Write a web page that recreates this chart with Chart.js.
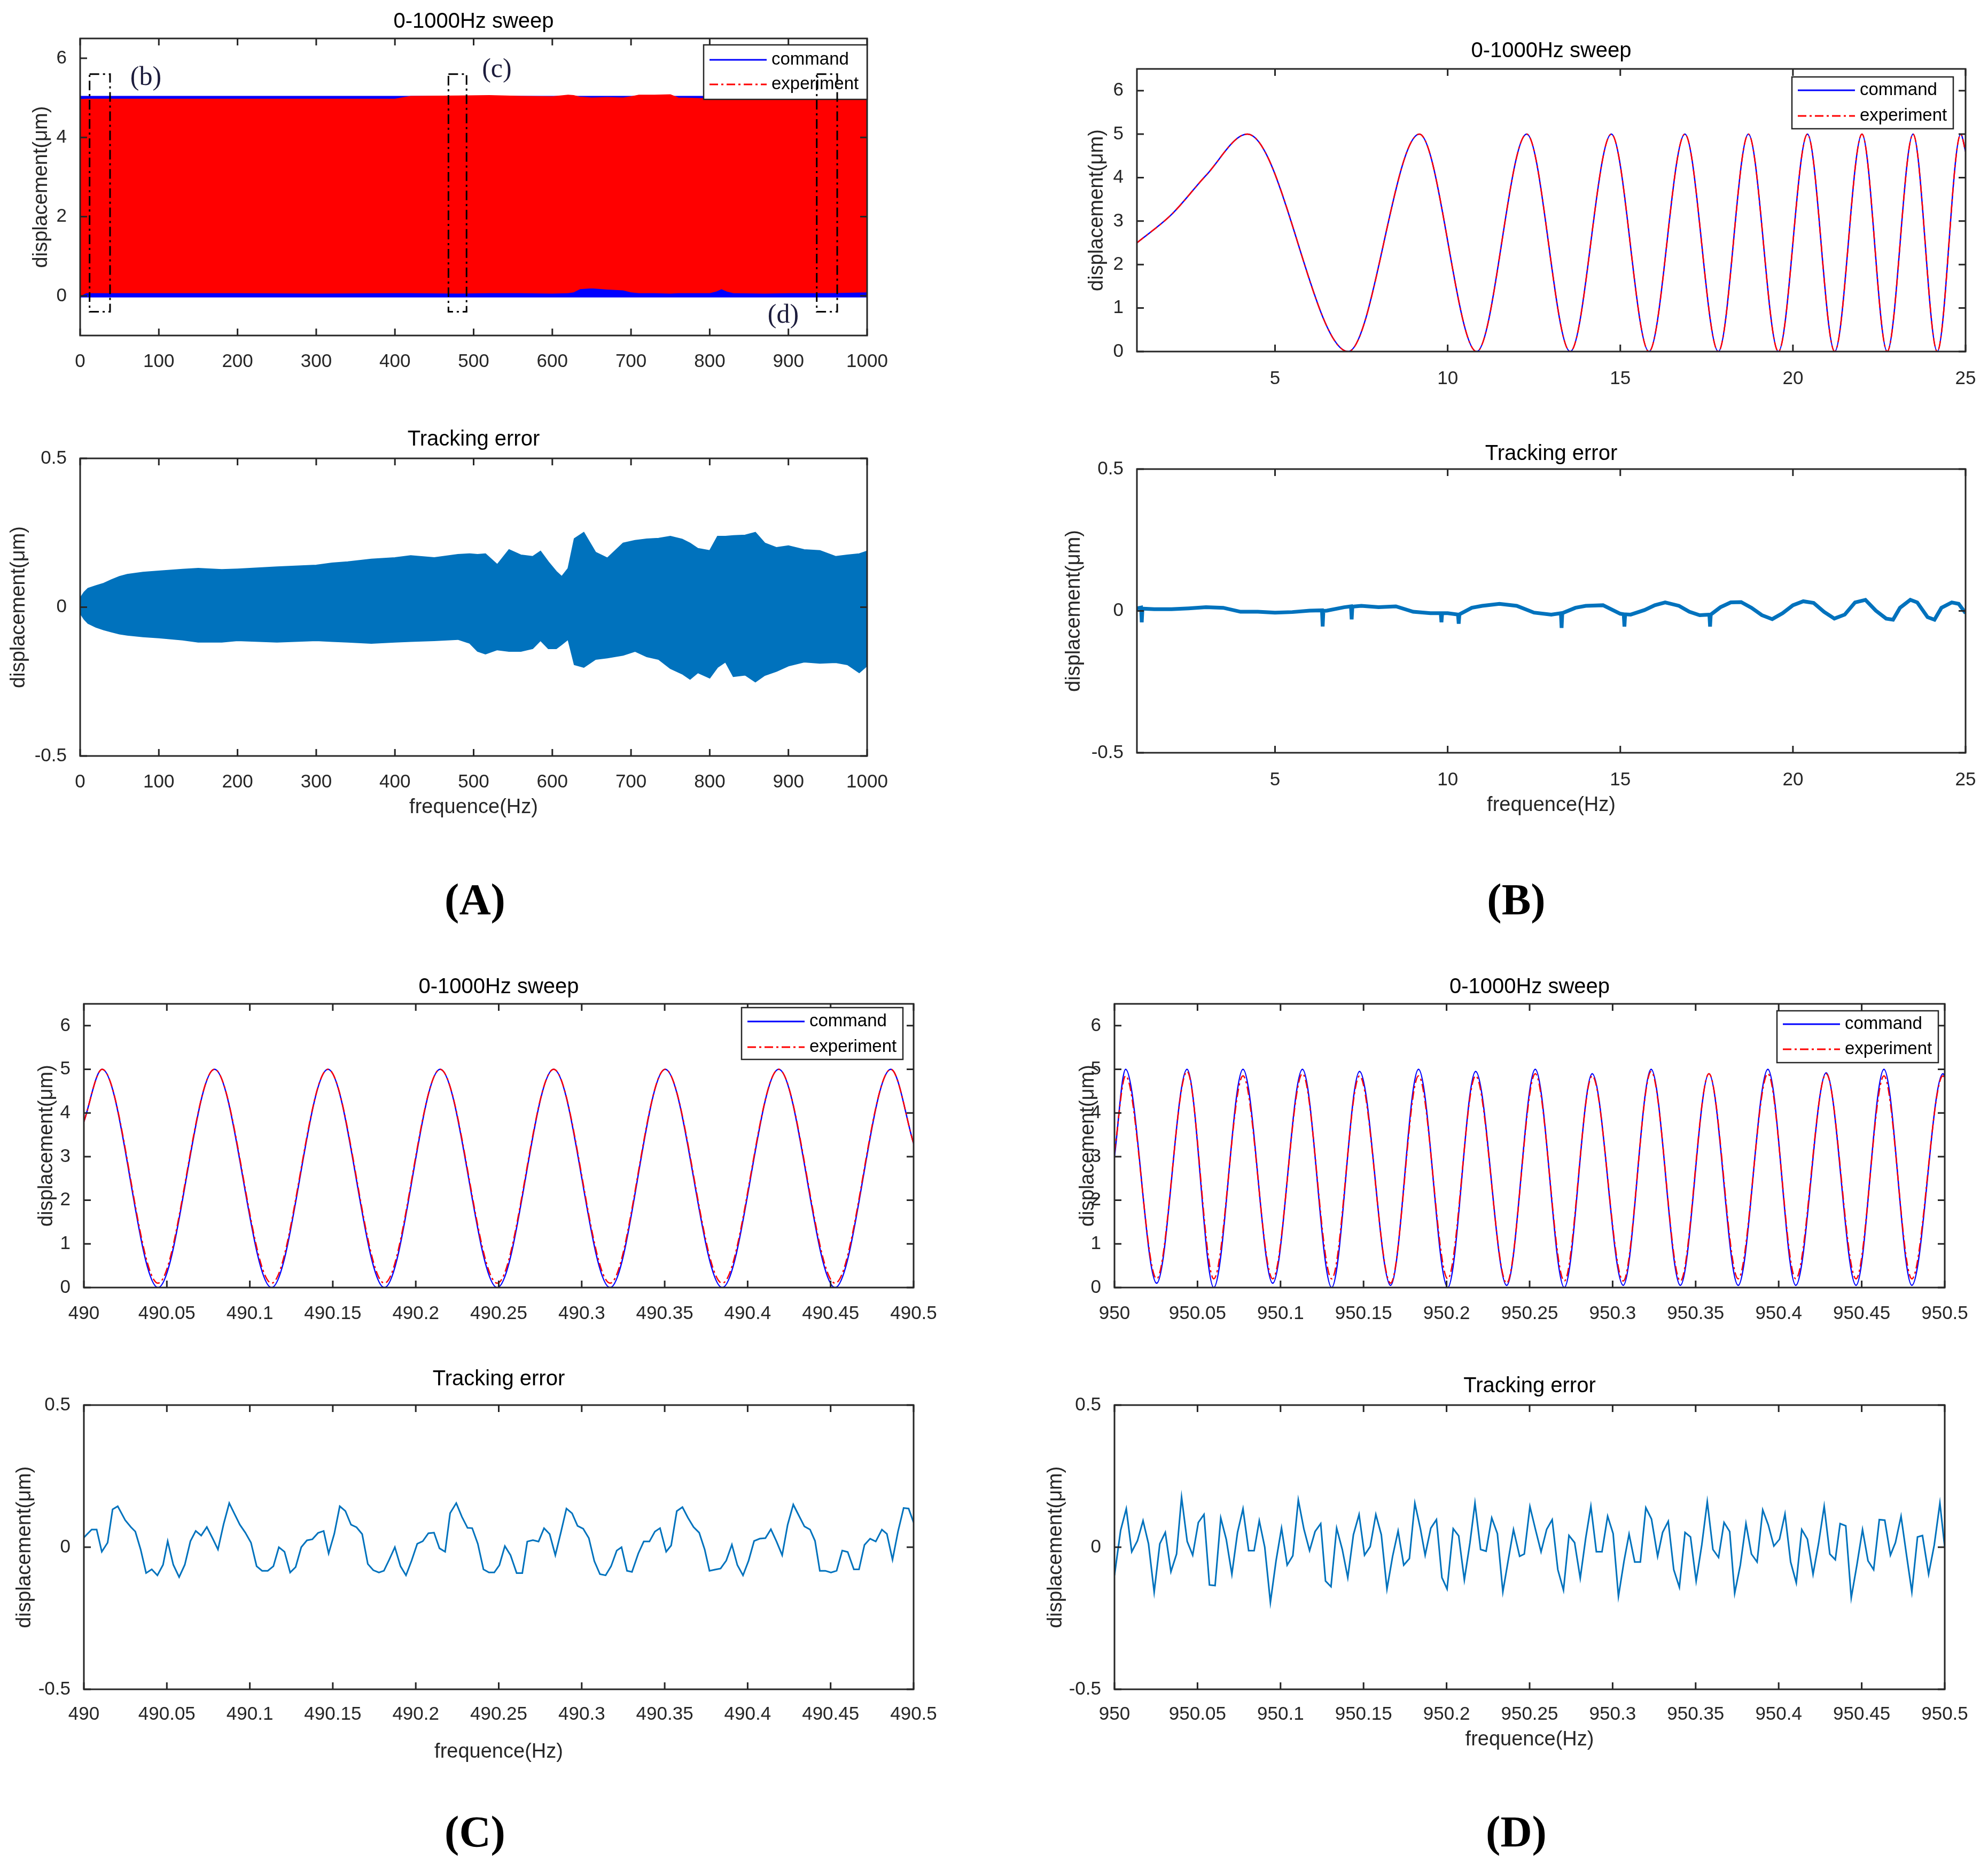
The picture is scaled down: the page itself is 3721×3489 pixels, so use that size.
<!DOCTYPE html>
<html>
<head>
<meta charset="utf-8">
<script src="https://cdn.jsdelivr.net/npm/chart.js@4.4.1/dist/chart.umd.min.js"></script>
<style>
  html, body { margin: 0; padding: 0; background: #fff; }
  body { width: 3721px; height: 3489px; position: relative; overflow: hidden; }
  canvas { position: absolute; }
  .panel-tag { position: absolute; font: bold 82px 'Liberation Serif', 'Times New Roman', serif; color: #000; transform: translate(-50%, -50%); white-space: nowrap; }
</style>
</head>
<body>
<div class="panel-tag" style="left:889px;top:1684px">(A)</div>
<div class="panel-tag" style="left:2838px;top:1684px">(B)</div>
<div class="panel-tag" style="left:889px;top:3429px">(C)</div>
<div class="panel-tag" style="left:2838px;top:3429px">(D)</div>
<script>
// ---- text ----
const seriesNames = ['command', 'experiment'];
const sweepTitle = '0-1000Hz sweep';
const errorTitle = 'Tracking error';
const yAxisTitle = 'displacement(\u03bcm)';
const xAxisTitle = 'frequence(Hz)';

// ---- tick values ----
const ticksAX = [0, 100, 200, 300, 400, 500, 600, 700, 800, 900, 1000];
const ticksBX = [5, 10, 15, 20, 25];
const ticksCX = [490, 490.05, 490.1, 490.15, 490.2, 490.25, 490.3, 490.35, 490.4, 490.45, 490.5];
const ticksDX = [950, 950.05, 950.1, 950.15, 950.2, 950.25, 950.3, 950.35, 950.4, 950.45, 950.5];
const ticksSweepAY = [0, 2, 4, 6];
const ticksSweepY = [0, 1, 2, 3, 4, 5, 6];
const ticksErrorY = [-0.5, 0, 0.5];

// ---- (A) 0-1000 Hz sweep: envelopes of the dense signals ----
const sweepAFreq = [0, 8, 100, 200, 300, 400, 420, 480, 520, 560, 600, 620, 627, 635, 650, 670, 690, 700, 710, 730, 750, 760, 800, 808, 815, 822, 830, 870, 900, 950, 1000];
const commandAUpper = [5.04, 5.04, 5.04, 5.04, 5.04, 5.04, 5.04, 5.04, 5.04, 5.04, 5.04, 5.04, 5.04, 5.04, 5.04, 5.04, 5.04, 5.04, 5.04, 5.04, 5.04, 5.04, 5.04, 5.04, 5.04, 5.04, 5.04, 5.04, 5.04, 5.04, 5.04];
const commandALower = [-0.03, -0.03, -0.03, -0.03, -0.03, -0.03, -0.03, -0.03, -0.03, -0.03, -0.03, -0.03, -0.03, -0.03, -0.03, -0.03, -0.03, -0.03, -0.03, -0.03, -0.03, -0.03, -0.03, -0.03, -0.03, -0.03, -0.03, -0.03, -0.03, -0.03, -0.03];
const experimentAUpper = [4.96, 4.97, 4.97, 4.97, 4.97, 4.97, 5.04, 5.05, 5.06, 5.04, 5.03, 5.07, 5.06, 5.02, 5.0, 5.01, 5.0, 5.03, 5.07, 5.07, 5.08, 5.0, 4.98, 4.97, 4.97, 4.97, 4.97, 4.97, 4.97, 4.97, 4.97];
const experimentALower = [0.0, 0.08, 0.08, 0.08, 0.07, 0.08, 0.08, 0.07, 0.08, 0.08, 0.07, 0.08, 0.1, 0.18, 0.2, 0.17, 0.15, 0.1, 0.08, 0.08, 0.07, 0.08, 0.08, 0.12, 0.18, 0.12, 0.08, 0.07, 0.08, 0.08, 0.1];

// zoom windows marked on (A)
const zoomBoxStart = [12, 468, 936];
const zoomBoxEnd = [38, 491, 962];
const zoomBoxLow = -0.4;
const zoomBoxHigh = 5.6;
const zoomTags = ['(b)', '(c)', '(d)'];
const zoomTagFreq = [83.5, 529.5, 893.4];
const zoomTagLevel = [5.5, 5.7, -0.5];

// (A) tracking error envelope
const errAFreq = [0, 5, 10, 20, 30, 40, 50, 60, 80, 100, 130, 150, 180, 200, 250, 300, 320, 340, 370, 400, 420, 450, 480, 495, 505, 515, 530, 545, 560, 575, 585, 595, 605, 612, 620, 628, 640, 655, 670, 690, 705, 720, 735, 750, 765, 775, 785, 800, 810, 820, 830, 845, 858, 870, 885, 900, 920, 940, 960, 975, 990, 1000];
const errAUpper = [0.03, 0.05, 0.063, 0.072, 0.08, 0.092, 0.103, 0.11, 0.117, 0.121, 0.127, 0.13, 0.126, 0.128, 0.135, 0.141, 0.148, 0.152, 0.161, 0.166, 0.173, 0.166, 0.177, 0.179, 0.177, 0.179, 0.143, 0.193, 0.175, 0.17, 0.188, 0.152, 0.12, 0.103, 0.13, 0.23, 0.251, 0.184, 0.165, 0.215, 0.224, 0.229, 0.231, 0.238, 0.228, 0.215, 0.197, 0.19, 0.238, 0.238, 0.24, 0.242, 0.251, 0.215, 0.2, 0.206, 0.193, 0.19, 0.17, 0.175, 0.179, 0.188];
const errALower = [-0.02, -0.04, -0.054, -0.067, -0.076, -0.083, -0.09, -0.094, -0.099, -0.103, -0.11, -0.117, -0.117, -0.112, -0.117, -0.112, -0.115, -0.117, -0.121, -0.117, -0.115, -0.112, -0.108, -0.121, -0.148, -0.157, -0.143, -0.148, -0.148, -0.139, -0.112, -0.139, -0.139, -0.125, -0.108, -0.193, -0.202, -0.175, -0.17, -0.161, -0.148, -0.166, -0.175, -0.206, -0.224, -0.242, -0.22, -0.238, -0.202, -0.184, -0.233, -0.228, -0.251, -0.229, -0.215, -0.197, -0.184, -0.188, -0.186, -0.193, -0.22, -0.197];

// ---- (B) 1-25 Hz: turning points of the sweep ----
const sweepBFreq = [1, 2, 3, 4.2, 7.12, 9.18, 10.84, 12.29, 13.55, 14.74, 15.83, 16.87, 17.84, 18.71, 19.58, 20.42, 21.21, 22.0, 22.73, 23.48, 24.18, 24.86, 25];
const commandB = [2.5, 3.15, 4.05, 5, 0, 5, 0, 5, 0, 5, 0, 5, 0, 5, 0, 5, 0, 5, 0, 5, 0, 5, 4.6];
const experimentB = [2.5, 3.15, 4.05, 5, 0, 5, 0, 5, 0, 5, 0, 5, 0, 5, 0, 5, 0, 5, 0, 5, 0, 5, 4.6];

const errBFreq = [1.0, 1.12, 1.14, 1.16, 1.5, 2.0, 2.5, 3.0, 3.5, 4.0, 4.5, 5.0, 5.5, 6.0, 6.36, 6.38, 6.4, 6.5, 7.0, 7.2, 7.22, 7.24, 7.5, 8.0, 8.5, 9.0, 9.5, 9.8, 9.82, 9.84, 10.0, 10.3, 10.32, 10.34, 10.7, 11.0, 11.5, 12.0, 12.5, 13.0, 13.28, 13.3, 13.32, 13.7, 14.0, 14.5, 15.0, 15.1, 15.12, 15.14, 15.3, 15.7, 16.0, 16.3, 16.7, 17.0, 17.3, 17.58, 17.6, 17.62, 17.9, 18.2, 18.5, 18.8, 19.1, 19.4, 19.7, 20.0, 20.3, 20.6, 20.9, 21.2, 21.5, 21.8, 22.1, 22.4, 22.7, 22.9, 23.1, 23.4, 23.6, 23.9, 24.1, 24.3, 24.6, 24.8, 25.0];
const errB = [0.009, 0.012, -0.04, 0.008, 0.006, 0.006, 0.009, 0.013, 0.011, -0.003, -0.003, -0.006, -0.004, 0.001, 0.002, -0.055, 0.0, 0.001, 0.013, 0.016, -0.03, 0.015, 0.018, 0.013, 0.016, -0.003, -0.008, -0.008, -0.04, -0.008, -0.008, -0.013, -0.045, -0.012, 0.011, 0.018, 0.025, 0.018, -0.006, -0.013, -0.008, -0.06, -0.008, 0.011, 0.018, 0.02, -0.01, -0.012, -0.055, -0.012, -0.013, 0.003, 0.02, 0.03, 0.018, -0.003, -0.015, -0.013, -0.055, -0.013, 0.013, 0.03, 0.031, 0.011, -0.015, -0.029, -0.008, 0.02, 0.034, 0.028, -0.003, -0.027, -0.013, 0.03, 0.039, 0.001, -0.027, -0.031, 0.011, 0.039, 0.03, -0.022, -0.031, 0.011, 0.03, 0.025, -0.008];

// ---- (C) 490-490.5 Hz ----
const sweepCFreq = [490, 490.011, 490.0447, 490.0787, 490.1131, 490.1471, 490.1811, 490.2147, 490.2491, 490.2831, 490.3171, 490.3503, 490.3847, 490.4187, 490.4527, 490.4863, 490.5];
const commandC = [3.8, 5, 0, 5, 0, 5, 0, 5, 0, 5, 0, 5, 0, 5, 0, 5, 3.3];
const experimentC = [3.8, 5, 0.1, 5, 0.1, 5, 0.1, 5, 0.1, 5, 0.1, 5, 0.1, 5, 0.1, 5, 3.3];

const errCFreq = [
  490.0000, 490.0047, 490.0077, 490.0108, 490.0143, 490.0173, 490.0204, 490.0249, 490.0283, 490.0310,
  490.0342, 490.0375, 490.0409, 490.0443, 490.0477, 490.0505, 490.0539, 490.0574, 490.0608, 490.0642,
  490.0674, 490.0707, 490.0741, 490.0775, 490.0808, 490.0842, 490.0876, 490.0906, 490.0940, 490.0973,
  490.1007, 490.1041, 490.1074, 490.1108, 490.1142, 490.1175, 490.1209, 490.1243, 490.1276, 490.1310,
  490.1344, 490.1377, 490.1411, 490.1445, 490.1475, 490.1509, 490.1542, 490.1576, 490.1610, 490.1643,
  490.1677, 490.1711, 490.1744, 490.1778, 490.1808, 490.1840, 490.1874, 490.1908, 490.1941, 490.1975,
  490.2009, 490.2042, 490.2076, 490.2110, 490.2143, 490.2177, 490.2207, 490.2244, 490.2278, 490.2312,
  490.2340, 490.2374, 490.2408, 490.2441, 490.2473, 490.2504, 490.2537, 490.2571, 490.2608, 490.2642,
  490.2672, 490.2706, 490.2740, 490.2773, 490.2807, 490.2841, 490.2874, 490.2908, 490.2942, 490.2975,
  490.3009, 490.3043, 490.3076, 490.3110, 490.3144, 490.3177, 490.3211, 490.3240, 490.3273, 490.3303,
  490.3341, 490.3374, 490.3408, 490.3441, 490.3472, 490.3509, 490.3539, 490.3573, 490.3607, 490.3640,
  490.3674, 490.3708, 490.3741, 490.3770, 490.3803, 490.3837, 490.3871, 490.3905, 490.3938, 490.3972,
  490.4006, 490.4039, 490.4073, 490.4107, 490.4140, 490.4174, 490.4208, 490.4241, 490.4275, 490.4309,
  490.4342, 490.4376, 490.4406, 490.4435, 490.4468, 490.4502, 490.4536, 490.4570, 490.4603, 490.4640,
  490.4671, 490.4704, 490.4738, 490.4772, 490.4809, 490.4839, 490.4873, 490.4906, 490.4940, 490.4970,
  490.5000];
const errC = [
  0.034, 0.062, 0.062, -0.016, 0.016, 0.133, 0.144, 0.095, 0.071, 0.055,
  -0.008, -0.091, -0.078, -0.099, -0.062, 0.021, -0.062, -0.105, -0.062, 0.021,
  0.057, 0.041, 0.071, 0.032, -0.008, 0.081, 0.155, 0.119, 0.079, 0.051,
  0.016, -0.067, -0.083, -0.083, -0.067, 0.000, -0.016, -0.089, -0.070, 0.000,
  0.024, 0.028, 0.050, 0.057, -0.022, 0.047, 0.144, 0.127, 0.079, 0.070,
  0.046, -0.059, -0.081, -0.089, -0.083, -0.044, 0.000, -0.067, -0.099, -0.047,
  0.012, 0.021, 0.049, 0.051, -0.004, -0.016, 0.120, 0.155, 0.107, 0.068,
  0.067, 0.012, -0.078, -0.089, -0.089, -0.063, 0.004, -0.028, -0.091, -0.091,
  0.020, 0.025, 0.020, 0.067, 0.046, -0.028, 0.051, 0.136, 0.119, 0.075,
  0.065, 0.032, -0.049, -0.095, -0.099, -0.067, -0.012, 0.000, -0.083, -0.087,
  -0.022, 0.020, 0.020, 0.055, 0.067, -0.016, 0.006, 0.127, 0.141, 0.104,
  0.071, 0.051, -0.008, -0.083, -0.079, -0.075, -0.047, 0.009, -0.063, -0.099,
  -0.047, 0.022, 0.030, 0.032, 0.063, 0.020, -0.028, 0.079, 0.150, 0.111,
  0.073, 0.062, 0.022, -0.083, -0.083, -0.089, -0.083, -0.012, -0.017, -0.078,
  -0.078, 0.008, 0.030, 0.020, 0.062, 0.047, -0.044, 0.055, 0.138, 0.136,
  0.087];

// ---- (D) 950-950.5 Hz ----
const sweepDFreq = [950, 950.0067, 950.0254, 950.0437, 950.0598, 950.0774, 950.0953, 950.1132, 950.1308, 950.1476, 950.1663, 950.1831, 950.2007, 950.2175, 950.2362, 950.2534, 950.2709, 950.2877, 950.3064, 950.3232, 950.3408, 950.358, 950.3756, 950.3935, 950.4103, 950.4286, 950.4466, 950.4634, 950.4802, 950.4989, 950.5];
const commandD = [3.0, 5.0, 0.1, 5.0, 0.0, 5.0, 0.1, 5.0, 0.0, 4.95, 0.05, 5.0, 0.0, 4.95, 0.05, 5.0, 0.0, 4.9, 0.05, 5.0, 0.05, 4.9, 0.05, 5.0, 0.05, 4.92, 0.05, 5.0, 0.05, 4.9, 4.85];
const experimentD = [3.1, 4.85, 0.2, 4.95, 0.2, 4.85, 0.2, 4.9, 0.2, 4.85, 0.1, 4.85, 0.2, 4.85, 0.1, 4.9, 0.15, 4.85, 0.15, 4.95, 0.15, 4.9, 0.2, 4.9, 0.2, 4.9, 0.2, 4.85, 0.2, 4.85, 4.8];

const errDFreq = [
  950.0000, 950.0037, 950.0071, 950.0104, 950.0138, 950.0172, 950.0205, 950.0239, 950.0273, 950.0306,
  950.0340, 950.0374, 950.0404, 950.0438, 950.0471, 950.0505, 950.0539, 950.0572, 950.0606, 950.0640,
  950.0673, 950.0707, 950.0741, 950.0774, 950.0808, 950.0841, 950.0872, 950.0905, 950.0939, 950.0973,
  950.1006, 950.1040, 950.1074, 950.1107, 950.1141, 950.1175, 950.1208, 950.1242, 950.1271, 950.1304,
  950.1338, 950.1372, 950.1405, 950.1439, 950.1473, 950.1506, 950.1540, 950.1574, 950.1607, 950.1641,
  950.1675, 950.1708, 950.1742, 950.1776, 950.1809, 950.1843, 950.1871, 950.1905, 950.1939, 950.1972,
  950.2003, 950.2040, 950.2073, 950.2107, 950.2141, 950.2171, 950.2205, 950.2238, 950.2272, 950.2306,
  950.2339, 950.2373, 950.2403, 950.2440, 950.2468, 950.2502, 950.2535, 950.2569, 950.2603, 950.2636,
  950.2670, 950.2704, 950.2737, 950.2771, 950.2805, 950.2838, 950.2869, 950.2902, 950.2936, 950.2970,
  950.3003, 950.3035, 950.3069, 950.3099, 950.3133, 950.3167, 950.3200, 950.3234, 950.3271, 950.3301,
  950.3335, 950.3368, 950.3402, 950.3436, 950.3469, 950.3503, 950.3537, 950.3570, 950.3604, 950.3638,
  950.3671, 950.3705, 950.3735, 950.3769, 950.3803, 950.3836, 950.3870, 950.3904, 950.3937, 950.3971,
  950.4005, 950.4038, 950.4072, 950.4106, 950.4139, 950.4173, 950.4207, 950.4240, 950.4274, 950.4308,
  950.4341, 950.4370, 950.4404, 950.4437, 950.4471, 950.4505, 950.4538, 950.4572, 950.4606, 950.4639,
  950.4673, 950.4703, 950.4737, 950.4771, 950.4802, 950.4836, 950.4866, 950.4903, 950.4937, 950.4971,
  950.5000];
const errD = [
  -0.099, 0.059, 0.135, -0.016, 0.022, 0.093, 0.012, -0.158, 0.012, 0.052,
  -0.086, -0.024, 0.176, 0.020, -0.028, 0.087, 0.115, -0.133, -0.135, 0.103,
  0.028, -0.095, 0.052, 0.135, -0.012, -0.012, 0.093, 0.000, -0.194, -0.048,
  0.067, -0.063, -0.030, 0.166, 0.063, -0.012, 0.055, 0.083, -0.119, -0.139,
  0.067, -0.008, -0.107, 0.044, 0.115, -0.028, 0.002, 0.115, 0.044, -0.147,
  -0.032, 0.057, -0.063, -0.040, 0.155, 0.063, -0.028, 0.067, 0.097, -0.107,
  -0.147, 0.065, 0.040, -0.115, 0.016, 0.155, -0.008, -0.014, 0.103, 0.048,
  -0.157, -0.040, 0.062, -0.032, -0.024, 0.143, 0.063, -0.016, 0.063, 0.097,
  -0.079, -0.151, 0.041, 0.016, -0.109, 0.032, 0.144, -0.016, -0.016, 0.109,
  0.048, -0.173, -0.048, 0.046, -0.052, -0.052, 0.139, 0.099, -0.032, 0.052,
  0.091, -0.079, -0.141, 0.052, 0.036, -0.119, 0.008, 0.160, -0.008, -0.036,
  0.087, 0.055, -0.162, -0.063, 0.083, -0.024, -0.052, 0.131, 0.079, 0.004,
  0.028, 0.117, -0.052, -0.125, 0.062, 0.028, -0.095, 0.012, 0.144, -0.024,
  -0.044, 0.083, 0.075, -0.178, -0.063, 0.062, -0.048, -0.079, 0.097, 0.095,
  -0.028, 0.016, 0.109, -0.032, -0.157, 0.036, 0.041, -0.095, 0.008, 0.155,
  0.000];

// ---- styling ----
const FONT = "'Liberation Sans', Arial, Helvetica, sans-serif";
const AXIS_COLOR = '#262626';
const BLUE = '#0000ff';
const RED = '#ff0000';
const ERR_BLUE = '#0072bd';
const DASH_DOT = [16, 6, 4, 6];

Chart.defaults.font.family = FONT;

const pts = (xs, ys) => xs.map((x, i) => ({ x: x, y: ys[i] }));

// box + inward tick marks on all four sides, like the original axes
const framePlugin = {
  id: 'axesFrame',
  afterDatasetsDraw(chart) {
    const { ctx, chartArea: a } = chart;
    const xs = chart.scales.x, ys = chart.scales.y;
    const len = 13;
    ctx.save();
    ctx.strokeStyle = AXIS_COLOR;
    ctx.lineWidth = 3;
    ctx.beginPath();
    xs.ticks.forEach(t => {
      const p = xs.getPixelForValue(t.value);
      ctx.moveTo(p, a.bottom); ctx.lineTo(p, a.bottom - len);
      ctx.moveTo(p, a.top); ctx.lineTo(p, a.top + len);
    });
    ys.ticks.forEach(t => {
      const p = ys.getPixelForValue(t.value);
      ctx.moveTo(a.left, p); ctx.lineTo(a.left + len, p);
      ctx.moveTo(a.right, p); ctx.lineTo(a.right - len, p);
    });
    ctx.stroke();
    ctx.strokeRect(a.left, a.top, a.right - a.left, a.bottom - a.top);
    ctx.restore();
  }
};

// boxed legend in the upper right corner of the axes
const boxLegendPlugin = {
  id: 'boxLegend',
  afterDraw(chart, args, opts) {
    if (!opts || !opts.items) return;
    const { ctx, chartArea: a } = chart;
    const w = opts.width, h = opts.height;
    const bx = a.right - opts.right - w;
    const by = a.top + opts.top;
    ctx.save();
    ctx.fillStyle = '#fff';
    ctx.fillRect(bx, by, w, h);
    ctx.strokeStyle = AXIS_COLOR;
    ctx.lineWidth = 2.5;
    ctx.strokeRect(bx, by, w, h);
    ctx.font = '33px ' + FONT;
    ctx.textBaseline = 'middle';
    ctx.textAlign = 'left';
    opts.items.forEach((it, i) => {
      const ly = by + opts.rows[i];
      ctx.beginPath();
      ctx.setLineDash(it.dash);
      ctx.strokeStyle = it.color;
      ctx.lineWidth = 3;
      ctx.moveTo(bx + 11, ly);
      ctx.lineTo(bx + 118, ly);
      ctx.stroke();
      ctx.setLineDash([]);
      ctx.fillStyle = '#000';
      ctx.fillText(it.text, bx + 127, ly);
    });
    ctx.restore();
  }
};

// dash-dot windows (b) (c) (d) on the overview plot
const zoomMarksPlugin = {
  id: 'zoomMarks',
  afterDraw(chart, args, opts) {
    if (!opts || !opts.starts) return;
    const { ctx } = chart;
    const xs = chart.scales.x, ys = chart.scales.y;
    ctx.save();
    ctx.strokeStyle = '#000';
    ctx.lineWidth = 3;
    ctx.setLineDash([18, 7, 4, 7]);
    opts.starts.forEach((s, i) => {
      const x0 = xs.getPixelForValue(s), x1 = xs.getPixelForValue(opts.ends[i]);
      const y0 = ys.getPixelForValue(opts.high), y1 = ys.getPixelForValue(opts.low);
      ctx.strokeRect(x0, y0, x1 - x0, y1 - y0);
    });
    ctx.setLineDash([]);
    ctx.fillStyle = '#1c1c3c';
    ctx.font = "50px 'Liberation Serif', 'Times New Roman', serif";
    ctx.textAlign = 'center';
    ctx.textBaseline = 'middle';
    opts.tags.forEach((t, i) => {
      ctx.fillText(t, xs.getPixelForValue(opts.tagX[i]), ys.getPixelForValue(opts.tagY[i]));
    });
    ctx.restore();
  }
};

function legendFor(right, top, width, height, rows) {
  return {
    right, top, width, height, rows,
    items: [
      { text: seriesNames[0], color: BLUE, dash: [] },
      { text: seriesNames[1], color: RED, dash: DASH_DOT }
    ]
  };
}

// geo: plot-area rectangle on the page plus label offsets
function mountPanel(geo, cfg) {
  const yW = geo.yOff + 30;
  const padR = 70;
  const xH = geo.xTitleOff ? Math.round(geo.xTitleOff + 23 + 4) : 90;
  const left = geo.L - yW;
  const top = geo.T - geo.titleGap - 24;
  const width = geo.R - geo.L + yW + padR;
  const height = geo.B - top + xH;

  const canvas = document.createElement('canvas');
  canvas.width = width;
  canvas.height = height;
  canvas.style.left = left + 'px';
  canvas.style.top = top + 'px';
  canvas.style.width = width + 'px';
  canvas.style.height = height + 'px';
  document.body.appendChild(canvas);

  return new Chart(canvas.getContext('2d'), {
    type: 'line',
    data: { datasets: cfg.datasets },
    options: {
      responsive: false,
      animation: false,
      devicePixelRatio: 1,
      layout: { padding: { left: 0, top: 0, right: padR, bottom: 0 } },
      elements: { point: { radius: 0 } },
      plugins: {
        legend: { display: false },
        tooltip: { enabled: false },
        title: {
          display: true,
          text: cfg.title,
          fullSize: false,
          color: '#000',
          font: { family: FONT, size: 40, weight: 'normal' },
          padding: { top: 0, bottom: geo.titleGap - 24 }
        },
        boxLegend: cfg.legend || false,
        zoomMarks: cfg.marks || false
      },
      scales: {
        x: {
          type: 'linear',
          min: cfg.xMin,
          max: cfg.xMax,
          afterBuildTicks: s => { s.ticks = cfg.xTicks.map(v => ({ value: v })); },
          afterFit: s => { s.height = xH; },
          grid: { display: false },
          border: { display: false },
          ticks: {
            autoSkip: false, maxRotation: 0, minRotation: 0,
            padding: geo.xPad, color: AXIS_COLOR,
            font: { family: FONT, size: 35 },
            callback: v => String(v)
          },
          title: geo.xTitleOff ? {
            display: true, text: xAxisTitle, color: AXIS_COLOR,
            font: { family: FONT, size: 38 },
            padding: { top: 0, bottom: 4 }
          } : { display: false }
        },
        y: {
          type: 'linear',
          min: cfg.yMin,
          max: cfg.yMax,
          afterBuildTicks: s => { s.ticks = cfg.yTicks.map(v => ({ value: v })); },
          afterFit: s => { s.width = yW; },
          grid: { display: false },
          border: { display: false },
          ticks: {
            padding: 17, color: AXIS_COLOR,
            font: { family: FONT, size: 35 },
            callback: v => String(v)
          },
          title: {
            display: true, text: yAxisTitle, color: AXIS_COLOR,
            font: { family: FONT, size: 38 },
            padding: { top: 7, bottom: 0 }
          }
        }
      }
    },
    plugins: [framePlugin, boxLegendPlugin, zoomMarksPlugin]
  });
}

function sweepLines(xs, cmd, exp) {
  return [
    { label: seriesNames[1], data: pts(xs, exp), borderColor: RED, borderWidth: 2.5, borderDash: DASH_DOT, cubicInterpolationMode: 'monotone', fill: false, order: 0 },
    { label: seriesNames[0], data: pts(xs, cmd), borderColor: BLUE, borderWidth: 2.5, cubicInterpolationMode: 'monotone', fill: false, order: 1 }
  ];
}

function errorLine(xs, ys, width) {
  return [{ label: errorTitle, data: pts(xs, ys), borderColor: ERR_BLUE, borderWidth: width, tension: 0, fill: false }];
}

// (A) top
mountPanel({ L: 150, T: 72, R: 1623, B: 628, yOff: 72, titleGap: 31, xPad: 20 }, {
  title: sweepTitle,
  datasets: [
    { label: seriesNames[1], data: pts(sweepAFreq, experimentAUpper), borderColor: RED, backgroundColor: RED, borderWidth: 1.5, fill: 1, order: 0 },
    { label: seriesNames[1], data: pts(sweepAFreq, experimentALower), borderColor: RED, borderWidth: 1.5, fill: false, order: 0 },
    { label: seriesNames[0], data: pts(sweepAFreq, commandAUpper), borderColor: BLUE, backgroundColor: BLUE, borderWidth: 1.5, fill: 3, order: 1 },
    { label: seriesNames[0], data: pts(sweepAFreq, commandALower), borderColor: BLUE, borderWidth: 1.5, fill: false, order: 1 }
  ],
  xMin: 0, xMax: 1000, xTicks: ticksAX,
  yMin: -1, yMax: 6.5, yTicks: ticksSweepAY,
  legend: legendFor(0, 12, 306, 102, [28, 74]),
  marks: { starts: zoomBoxStart, ends: zoomBoxEnd, low: zoomBoxLow, high: zoomBoxHigh, tags: zoomTags, tagX: zoomTagFreq, tagY: zoomTagLevel }
});

// (A) bottom
mountPanel({ L: 150, T: 858, R: 1623, B: 1415, yOff: 114, titleGap: 35, xPad: 20, xTitleOff: 96 }, {
  title: errorTitle,
  datasets: [
    { label: errorTitle, data: pts(errAFreq, errAUpper), borderColor: ERR_BLUE, backgroundColor: ERR_BLUE, borderWidth: 2, fill: 1 },
    { label: errorTitle, data: pts(errAFreq, errALower), borderColor: ERR_BLUE, borderWidth: 2, fill: false }
  ],
  xMin: 0, xMax: 1000, xTicks: ticksAX,
  yMin: -0.5, yMax: 0.5, yTicks: ticksErrorY
});

// (B) top
mountPanel({ L: 2128, T: 129, R: 3679, B: 658, yOff: 74, titleGap: 33, xPad: 22 }, {
  title: sweepTitle,
  datasets: sweepLines(sweepBFreq, commandB, experimentB),
  xMin: 1, xMax: 25, xTicks: ticksBX,
  yMin: 0, yMax: 6.5, yTicks: ticksSweepY,
  legend: legendFor(23, 15, 302, 97, [25, 73])
});

// (B) bottom
mountPanel({ L: 2128, T: 878, R: 3679, B: 1409, yOff: 117, titleGap: 28, xPad: 22, xTitleOff: 98 }, {
  title: errorTitle,
  datasets: errorLine(errBFreq, errB, 7),
  xMin: 1, xMax: 25, xTicks: ticksBX,
  yMin: -0.5, yMax: 0.5, yTicks: ticksErrorY
});

// (C) top
mountPanel({ L: 157, T: 1879, R: 1710, B: 2410, yOff: 69, titleGap: 31, xPad: 20 }, {
  title: sweepTitle,
  datasets: sweepLines(sweepCFreq, commandC, experimentC),
  xMin: 490, xMax: 490.5, xTicks: ticksCX,
  yMin: 0, yMax: 6.5, yTicks: ticksSweepY,
  legend: legendFor(20, 7, 302, 97, [26, 74])
});

// (C) bottom
mountPanel({ L: 157, T: 2630, R: 1710, B: 3162, yOff: 110, titleGap: 48, xPad: 18, xTitleOff: 117 }, {
  title: errorTitle,
  datasets: errorLine(errCFreq, errC, 3),
  xMin: 490, xMax: 490.5, xTicks: ticksCX,
  yMin: -0.5, yMax: 0.5, yTicks: ticksErrorY
});

// (D) top
mountPanel({ L: 2086, T: 1879, R: 3640, B: 2410, yOff: 49, titleGap: 31, xPad: 20 }, {
  title: sweepTitle,
  datasets: sweepLines(sweepDFreq, commandD, experimentD),
  xMin: 950, xMax: 950.5, xTicks: ticksDX,
  yMin: 0, yMax: 6.5, yTicks: ticksSweepY,
  legend: legendFor(12, 13, 302, 97, [25, 72])
});

// (D) bottom
mountPanel({ L: 2086, T: 2630, R: 3640, B: 3162, yOff: 109, titleGap: 35, xPad: 18, xTitleOff: 94 }, {
  title: errorTitle,
  datasets: errorLine(errDFreq, errD, 3),
  xMin: 950, xMax: 950.5, xTicks: ticksDX,
  yMin: -0.5, yMax: 0.5, yTicks: ticksErrorY
});
</script>
</body>
</html>
